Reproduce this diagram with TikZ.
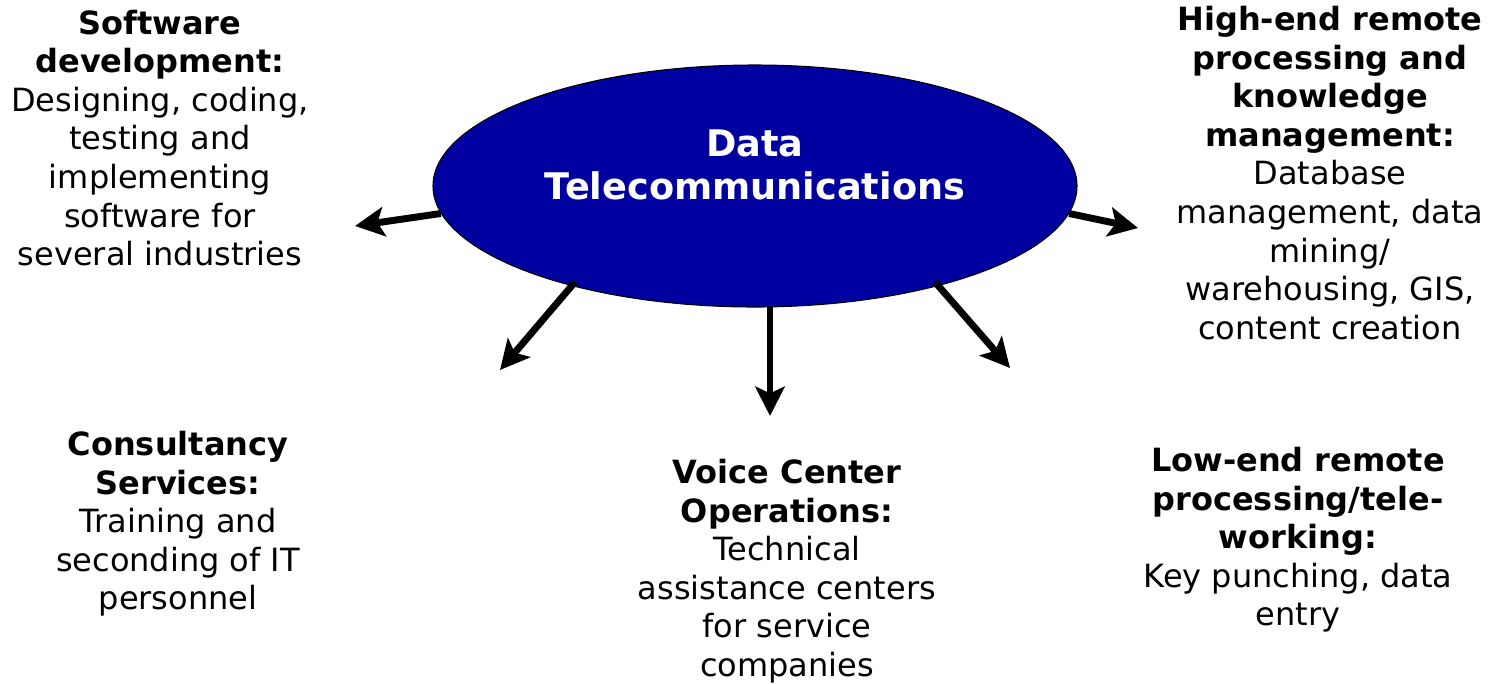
\documentclass[tikz,border=0pt]{standalone}
\usepackage{fontspec}
\setmainfont{DejaVu Sans}
\usetikzlibrary{arrows.meta,shapes.geometric}
\definecolor{hubblue}{RGB}{0,0,160}
\tikzset{
  lbl/.style={align=center, inner sep=0pt, font=\fontsize{24}{28.9}\selectfont},
  arr/.style={line width=5.2pt, -{Stealth[length=22pt,width=22pt,inset=5pt]}},
  hub/.style={ellipse, draw=black, line width=0.8pt, fill=hubblue, minimum width=483pt, minimum height=181.5pt, inner sep=0pt}
}
\begin{document}
\begin{tikzpicture}[x=0.75pt,y=-0.75pt]
\useasboundingbox (0,0) rectangle (1489,683);
\node[hub] (hub) at (755,186) {};
\node[lbl, text=white, font=\bfseries\fontsize{27.5}{32.3}\selectfont] (title) at (755,165) {Data\\Telecommunications};
\node[lbl] (sw) at (160,138) {\textbf{Software}\\\textbf{development:}\\Designing, coding,\\testing and\\implementing\\software for\\several industries};
\node[lbl] (hi) at (1330,173) {\textbf{High-end remote}\\\textbf{processing and}\\\textbf{knowledge}\\\textbf{management:}\\Database\\management, data\\mining/\\warehousing, GIS,\\content creation};
\node[lbl] (cs) at (178,524) {\textbf{Consultancy}\\\textbf{Services:}\\Training and\\seconding of IT\\personnel};
\node[lbl] (vc) at (787,571) {\textbf{Voice Center}\\\textbf{Operations:}\\Technical\\assistance centers\\for service\\companies};
\node[lbl] (lo) at (1298,540) {\textbf{Low-end remote}\\\textbf{processing/tele-}\\\textbf{working:}\\Key punching, data\\entry};
\coordinate (a1) at (355,226);
\coordinate (a2) at (500,370);
\coordinate (a3) at (770,416);
\coordinate (a4) at (1010,368);
\coordinate (a5) at (1138,228);
\draw[arr] (hub.185) -- (a1);
\draw[arr] (575,282) -- (a2);
\draw[arr] (770,307) -- (a3);
\draw[arr] (935,282) -- (a4);
\draw[arr] (hub.-5) -- (a5);
\end{tikzpicture}
\end{document}
